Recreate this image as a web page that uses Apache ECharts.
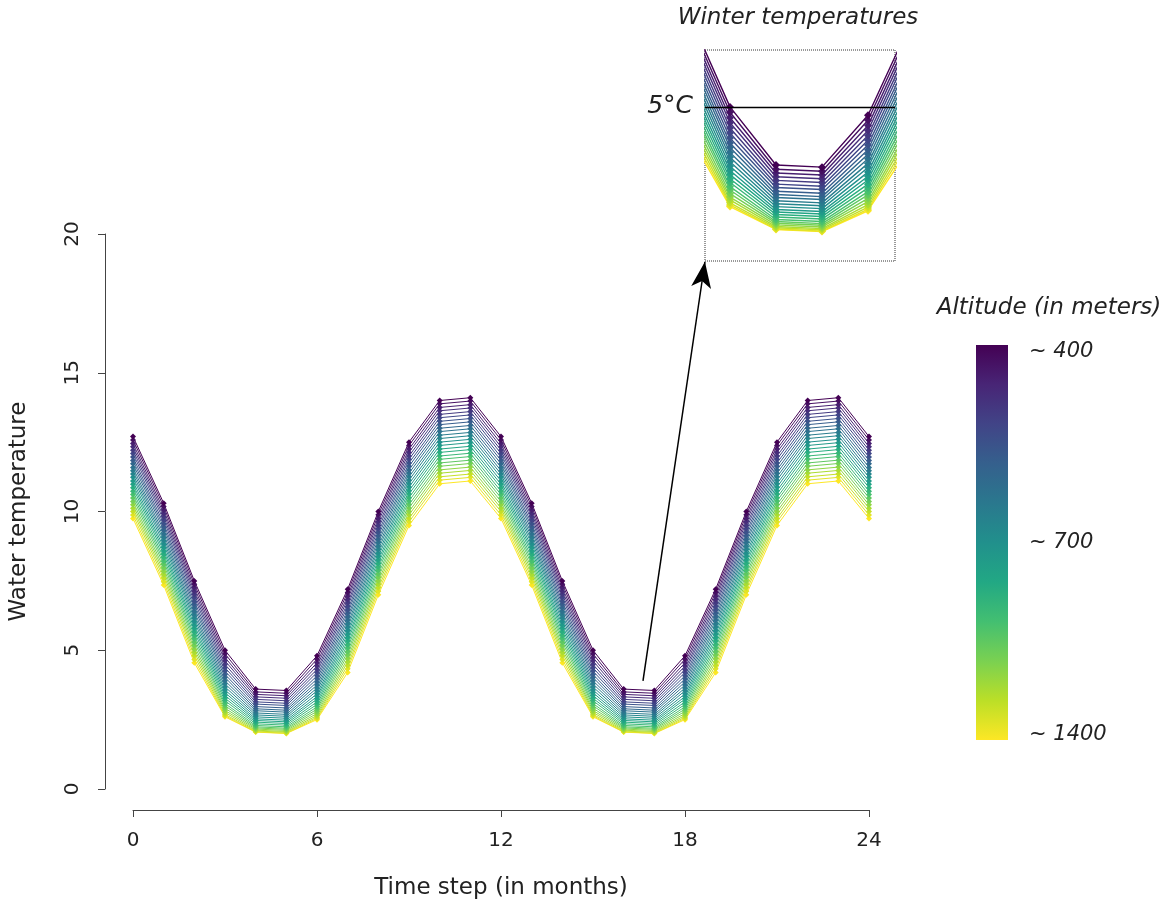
<!DOCTYPE html>
<html><head><meta charset="utf-8">
<script src="https://cdn.jsdelivr.net/npm/echarts@6/dist/echarts.min.js"></script>
<style>html,body{margin:0;padding:0;background:#fff}#c{width:1167px;height:900px}</style>
</head><body><div id="c"></div><script>
// Time steps (months)
const months = [0,1,2,3,4,5,6,7,8,9,10,11,12,13,14,15,16,17,18,19,20,21,22,23,24];
// One row per altitude line, from ~400 m (warmest, purple) to ~1400 m (coldest, yellow)
const waterTemp = [
[12.70,10.30,7.50,5.00,3.60,3.55,4.80,7.20,10.00,12.50,14.00,14.10,12.70,10.30,7.50,5.00,3.60,3.55,4.80,7.20,10.00,12.50,14.00,14.10,12.70],
[12.58,10.18,7.38,4.87,3.50,3.45,4.68,7.08,9.88,12.38,13.88,13.98,12.58,10.18,7.38,4.87,3.50,3.45,4.68,7.08,9.88,12.38,13.88,13.98,12.58],
[12.45,10.05,7.25,4.74,3.41,3.36,4.55,6.95,9.75,12.25,13.75,13.85,12.45,10.05,7.25,4.74,3.41,3.36,4.55,6.95,9.75,12.25,13.75,13.85,12.45],
[12.33,9.93,7.13,4.62,3.32,3.27,4.43,6.83,9.63,12.13,13.63,13.73,12.33,9.93,7.13,4.62,3.32,3.27,4.43,6.83,9.63,12.13,13.63,13.73,12.33],
[12.21,9.81,7.01,4.49,3.23,3.18,4.31,6.70,9.50,12.00,13.50,13.60,12.21,9.81,7.01,4.49,3.23,3.18,4.31,6.70,9.50,12.00,13.50,13.60,12.21],
[12.09,9.69,6.89,4.37,3.14,3.09,4.20,6.58,9.38,11.88,13.38,13.48,12.09,9.69,6.89,4.37,3.14,3.09,4.20,6.58,9.38,11.88,13.38,13.48,12.09],
[11.96,9.56,6.76,4.25,3.06,3.01,4.08,6.45,9.25,11.75,13.25,13.35,11.96,9.56,6.76,4.25,3.06,3.01,4.08,6.45,9.25,11.75,13.25,13.35,11.96],
[11.84,9.44,6.64,4.13,2.97,2.92,3.97,6.33,9.13,11.63,13.13,13.23,11.84,9.44,6.64,4.13,2.97,2.92,3.97,6.33,9.13,11.63,13.13,13.23,11.84],
[11.72,9.32,6.52,4.02,2.89,2.84,3.86,6.20,9.00,11.50,13.00,13.10,11.72,9.32,6.52,4.02,2.89,2.84,3.86,6.20,9.00,11.50,13.00,13.10,11.72],
[11.59,9.19,6.39,3.90,2.82,2.77,3.75,6.08,8.88,11.38,12.88,12.98,11.59,9.19,6.39,3.90,2.82,2.77,3.75,6.08,8.88,11.38,12.88,12.98,11.59],
[11.47,9.07,6.27,3.79,2.74,2.69,3.64,5.95,8.75,11.25,12.75,12.85,11.47,9.07,6.27,3.79,2.74,2.69,3.64,5.95,8.75,11.25,12.75,12.85,11.47],
[11.35,8.95,6.15,3.68,2.67,2.62,3.54,5.83,8.63,11.13,12.63,12.73,11.35,8.95,6.15,3.68,2.67,2.62,3.54,5.83,8.63,11.13,12.63,12.73,11.35],
[11.23,8.83,6.03,3.57,2.60,2.55,3.43,5.70,8.50,11.00,12.50,12.60,11.23,8.83,6.03,3.57,2.60,2.55,3.43,5.70,8.50,11.00,12.50,12.60,11.23],
[11.10,8.70,5.90,3.47,2.53,2.48,3.33,5.58,8.38,10.88,12.38,12.48,11.10,8.70,5.90,3.47,2.53,2.48,3.33,5.58,8.38,10.88,12.38,12.48,11.10],
[10.98,8.58,5.78,3.37,2.47,2.42,3.24,5.45,8.25,10.75,12.25,12.35,10.98,8.58,5.78,3.37,2.47,2.42,3.24,5.45,8.25,10.75,12.25,12.35,10.98],
[10.86,8.46,5.66,3.27,2.41,2.36,3.14,5.33,8.13,10.63,12.13,12.23,10.86,8.46,5.66,3.27,2.41,2.36,3.14,5.33,8.13,10.63,12.13,12.23,10.86],
[10.73,8.33,5.53,3.18,2.35,2.30,3.05,5.20,8.00,10.50,12.00,12.10,10.73,8.33,5.53,3.18,2.35,2.30,3.05,5.20,8.00,10.50,12.00,12.10,10.73],
[10.61,8.21,5.41,3.08,2.29,2.24,2.96,5.08,7.88,10.38,11.88,11.98,10.61,8.21,5.41,3.08,2.29,2.24,2.96,5.08,7.88,10.38,11.88,11.98,10.61],
[10.49,8.09,5.29,3.00,2.24,2.19,2.88,4.95,7.75,10.25,11.75,11.85,10.49,8.09,5.29,3.00,2.24,2.19,2.88,4.95,7.75,10.25,11.75,11.85,10.49],
[10.36,7.96,5.16,2.91,2.20,2.15,2.80,4.83,7.63,10.13,11.63,11.73,10.36,7.96,5.16,2.91,2.20,2.15,2.80,4.83,7.63,10.13,11.63,11.73,10.36],
[10.24,7.84,5.04,2.83,2.16,2.11,2.72,4.70,7.50,10.00,11.50,11.60,10.24,7.84,5.04,2.83,2.16,2.11,2.72,4.70,7.50,10.00,11.50,11.60,10.24],
[10.12,7.72,4.92,2.76,2.12,2.07,2.65,4.58,7.38,9.88,11.38,11.48,10.12,7.72,4.92,2.76,2.12,2.07,2.65,4.58,7.38,9.88,11.38,11.48,10.12],
[10.00,7.60,4.80,2.69,2.09,2.04,2.59,4.45,7.25,9.75,11.25,11.35,10.00,7.60,4.80,2.69,2.09,2.04,2.59,4.45,7.25,9.75,11.25,11.35,10.00],
[9.87,7.47,4.67,2.64,2.06,2.01,2.54,4.33,7.13,9.63,11.13,11.23,9.87,7.47,4.67,2.64,2.06,2.01,2.54,4.33,7.13,9.63,11.13,11.23,9.87],
[9.75,7.35,4.55,2.60,2.05,2.00,2.50,4.20,7.00,9.50,11.00,11.10,9.75,7.35,4.55,2.60,2.05,2.00,2.50,4.20,7.00,9.50,11.00,11.10,9.75]
];
const altitudeLabels = ['~ 400', '~ 700', '~ 1400'];
const thresholdTemp = 5;
// Arrow from the main plot to the inset (data coordinates)
const arrowFrom = [16.63, 3.9];
const arrowTo = [18.65, 19.0];

const FONT = 'DejaVu Sans';
const viridisStops = ['#440154','#482576','#414487','#35608D','#2A788E','#21908C','#22A884','#43BF71','#7AD151','#BBDF27','#FDE725'];
function hexToRgb(h){return [parseInt(h.slice(1,3),16),parseInt(h.slice(3,5),16),parseInt(h.slice(5,7),16)];}
function viridis(t){
  const p = t*(viridisStops.length-1);
  const i = Math.min(Math.floor(p), viridisStops.length-2);
  const f = p - i;
  const a = hexToRgb(viridisStops[i]), b = hexToRgb(viridisStops[i+1]);
  const c = a.map((v,k)=>Math.round(v+(b[k]-v)*f));
  return 'rgb('+c.join(',')+')';
}

const chart = echarts.init(document.getElementById('c'), null, {renderer:'canvas'});
const n = waterTemp.length;
const series = [];
for (let k = n-1; k >= 0; k--) {
  const color = viridis(k/(n-1));
  const data = months.map((m,j)=>[m, waterTemp[k][j]]);
  const main = {
    type:'line', name:'line'+k, xAxisIndex:0, yAxisIndex:0, data,
    symbol:'diamond', symbolSize:6, showSymbol:true,
    lineStyle:{width:1, color}, itemStyle:{color}, emphasis:{disabled:true}, silent:true, clip:true
  };
  const inset = {
    type:'line', name:'inset'+k, xAxisIndex:1, yAxisIndex:1, data,
    symbol:'diamond', symbolSize:8, showSymbol:true,
    lineStyle:{width:1.4, color}, itemStyle:{color}, emphasis:{disabled:true}, silent:true, clip:true
  };
  if (k === 0) {
    main.markLine = {
      silent:true, symbol:['none','arrow'], symbolSize:[15, 26],
      lineStyle:{color:'#000', width:1.5, type:'solid'}, label:{show:false},
      data:[[{coord:arrowFrom},{coord:arrowTo}]]
    };
    inset.markLine = {
      silent:true, symbol:['none','none'],
      lineStyle:{color:'#000', width:1.3, type:'solid'},
      label:{show:true, position:'start', formatter:'5°C', fontFamily:FONT, fontStyle:'italic', fontSize:25, color:'#222', distance:12},
      data:[{yAxis:thresholdTemp}]
    };
  }
  series.push(main, inset);
}

const option = {
  animation:false,
  backgroundColor:'#fff',
  grid:[
    {left:133, right:298, top:234, bottom:111, containLabel:false, outerBoundsMode:'none'},
    {left:705, top:50, width:190, height:211, show:true, borderColor:'#333', borderWidth:1, borderType:'dotted', backgroundColor:'transparent', outerBoundsMode:'none'}
  ],
  xAxis:[
    {type:'value', gridIndex:0, min:0, max:24, interval:6, offset:21,
     name:'Time step (in months)', nameLocation:'middle', nameGap:67,
     nameTextStyle:{fontFamily:FONT, fontSize:23, color:'#222'},
     axisLine:{show:true, onZero:false, lineStyle:{color:'#444', width:1}},
     axisTick:{show:true, length:7, lineStyle:{color:'#444'}},
     axisLabel:{fontFamily:FONT, fontSize:20, color:'#222', margin:21},
     splitLine:{show:false}},
    {type:'value', gridIndex:1, min:14.457, max:18.587, show:false, splitLine:{show:false}}
  ],
  yAxis:[
    {type:'value', gridIndex:0, min:0, max:20, interval:5, offset:28,
     name:'Water temperature', nameLocation:'middle', nameGap:74, nameRotate:90,
     nameTextStyle:{fontFamily:FONT, fontSize:23, color:'#222'},
     axisLine:{show:true, onZero:false, lineStyle:{color:'#444', width:1}},
     axisTick:{show:true, length:7, lineStyle:{color:'#444'}},
     axisLabel:{fontFamily:FONT, fontSize:20, color:'#222', rotate:90, margin:22},
     splitLine:{show:false}},
    {type:'value', gridIndex:1, min:1.29, max:6.37, show:false, splitLine:{show:false}}
  ],
  series,
  graphic:[
    {type:'text', x:798, y:18, style:{text:'Winter temperatures', font:'italic 23px "DejaVu Sans"', fill:'#222', textAlign:'center', textVerticalAlign:'middle'}},
    {type:'text', x:1049, y:308, style:{text:'Altitude (in meters)', font:'italic 23px "DejaVu Sans"', fill:'#222', textAlign:'center', textVerticalAlign:'middle'}},
    {type:'rect', shape:{x:976, y:345, width:32, height:395},
     style:{fill:new echarts.graphic.LinearGradient(0,0,0,1, viridisStops.map((c,i)=>({offset:i/(viridisStops.length-1), color:c})))}},
    {type:'text', x:1029, y:352, style:{text:altitudeLabels[0], font:'italic 21px "DejaVu Sans"', fill:'#222', textVerticalAlign:'middle'}},
    {type:'text', x:1029, y:543, style:{text:altitudeLabels[1], font:'italic 21px "DejaVu Sans"', fill:'#222', textVerticalAlign:'middle'}},
    {type:'text', x:1029, y:735, style:{text:altitudeLabels[2], font:'italic 21px "DejaVu Sans"', fill:'#222', textVerticalAlign:'middle'}}
  ]
};
chart.setOption(option);
</script></body></html>
